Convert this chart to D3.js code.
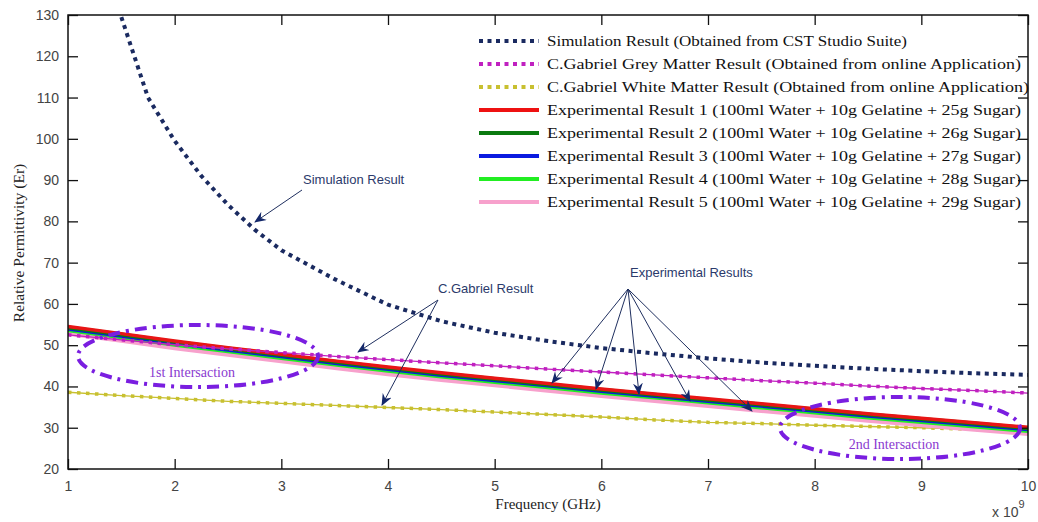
<!DOCTYPE html>
<html><head><meta charset="utf-8">
<script src="https://cdn.jsdelivr.net/npm/d3@7"></script>
<style>body{margin:0;background:#fff}svg{display:block}</style>
</head><body>
<svg id="c" width="1038" height="522"></svg>
<script>
// ---- data ----
const xTicks = [1,2,3,4,5,6,7,8,9,10];
const yTicks = [20,30,40,50,60,70,80,90,100,110,120,130];
const simFreq = [1.5,1.75,2,2.25,2.5,2.75,3,3.5,4,4.5,5,5.5,6,6.5,7,7.5,8,8.5,9,9.5,10];
const simValues = [129.5,110,99.5,91,84,78,73,66,59.8,55.8,53,51,49.3,48,46.8,45.8,45,44.3,43.7,43.2,42.8];
const freq = [1,1.5,2,2.5,3,3.5,4,4.5,5,5.5,6,6.5,7,7.5,8,8.5,9,9.5,10];
const greyMatter = [52.5,51.3,50.1,49.1,48.2,47.3,46.5,45.7,45,44.2,43.5,42.8,42.1,41.4,40.8,40.1,39.5,39,38.4];
const whiteMatter = [38.6,37.8,37.1,36.4,35.9,35.4,34.9,34.4,33.8,33.2,32.6,31.9,31.3,31,30.6,30.3,30,29.6,29.3];
const exp1 = [54.5,52.8,51.0,49.4,47.8,46.2,44.7,43.3,42.0,40.7,39.4,38.2,37.0,35.8,34.6,33.4,32.3,31.2,30.1];
const exp2 = [54.3,52.6,50.8,49.2,47.6,46.0,44.5,43.1,41.8,40.5,39.2,38.0,36.8,35.6,34.4,33.2,32.1,31.0,29.9];
const exp3 = [54.0,52.3,50.5,48.9,47.3,45.7,44.2,42.8,41.5,40.2,38.9,37.7,36.5,35.3,34.1,32.9,31.8,30.7,29.6];
const exp4 = [53.6,51.9,50.1,48.5,46.9,45.3,43.8,42.4,41.1,39.8,38.5,37.3,36.1,34.9,33.7,32.5,31.4,30.3,29.2];
const exp5 = [52.9,51.2,49.4,47.8,46.2,44.6,43.1,41.7,40.4,39.1,37.8,36.6,35.4,34.2,33.0,31.8,30.7,29.6,28.6];
const legendLabels = [
  "Simulation Result (Obtained from CST Studio Suite)",
  "C.Gabriel Grey Matter Result  (Obtained from online Application)",
  "C.Gabriel White Matter Result  (Obtained from online Application)",
  "Experimental Result 1 (100ml Water + 10g Gelatine + 25g Sugar)",
  "Experimental Result 2 (100ml Water + 10g Gelatine + 26g Sugar)",
  "Experimental Result 3 (100ml Water + 10g Gelatine + 27g Sugar)",
  "Experimental Result 4 (100ml Water + 10g Gelatine + 28g Sugar)",
  "Experimental Result 5 (100ml Water + 10g Gelatine + 29g Sugar)"
];

// ---- layout ----
const L=68,R=1028,T=15,B=469;
const svg=d3.select("#c");
const x=d3.scaleLinear().domain([1,10]).range([L,R]);
const y=d3.scaleLinear().domain([20,130]).range([B,T]);

const defs=svg.append("defs");
defs.append("clipPath").attr("id","clip")
  .append("rect").attr("x",L).attr("y",T).attr("width",R-L).attr("height",B-T);
const mk=defs.append("marker").attr("id","arr")
  .attr("viewBox","0 0 12 10").attr("refX",11).attr("refY",5)
  .attr("markerWidth",12).attr("markerHeight",10).attr("markerUnits","userSpaceOnUse")
  .attr("orient","auto");
mk.append("path").attr("d","M0,0 L12,5 L0,10 L4,5 Z").attr("fill","#14286a");

const line=(xs,ys)=>d3.line().x((d,i)=>x(xs[i])).y(d=>y(d))(ys);

const plot=svg.append("g").attr("clip-path","url(#clip)");
const expSeries=[[exp5,"#f7a1cc",5],[exp4,"#22ee22",4],[exp3,"#0a1ae0",4],[exp2,"#0a7a10",4],[exp1,"#e81515",3.5]];
plot.append("path").attr("d",line(freq,whiteMatter)).attr("fill","none").attr("stroke","#c8c030").attr("stroke-width",1.3);
plot.append("path").attr("d",line(freq,whiteMatter)).attr("fill","none").attr("stroke","#c8c030").attr("stroke-width",3.5).attr("stroke-dasharray","3.5,5.5");
expSeries.forEach(([v,c,w])=>{
  plot.append("path").attr("d",line(freq,v)).attr("fill","none").attr("stroke",c).attr("stroke-width",w);
});
plot.append("path").attr("d",line(freq,greyMatter)).attr("fill","none").attr("stroke","#c020c0").attr("stroke-width",1.3);
plot.append("path").attr("d",line(freq,greyMatter)).attr("fill","none").attr("stroke","#c020c0").attr("stroke-width",3.5).attr("stroke-dasharray","3.5,5.5");
plot.append("path").attr("d",line(simFreq,simValues)).attr("fill","none").attr("stroke","#1a2a60").attr("stroke-width",4).attr("stroke-dasharray","4,4.5");

// axes
const ax=svg.append("g");
const axBottom=d3.axisBottom(x).tickValues(xTicks).tickSizeInner(-10).tickSizeOuter(0).tickPadding(12);
const axLeft=d3.axisLeft(y).tickValues(yTicks).tickSizeInner(-10).tickSizeOuter(0).tickPadding(9);
const axTop=d3.axisTop(x).tickValues(xTicks).tickSizeInner(-10).tickSizeOuter(0).tickFormat("");
const axRight=d3.axisRight(y).tickValues(yTicks).tickSizeInner(-10).tickSizeOuter(0).tickFormat("");
[[axBottom,`translate(0,${B})`],[axLeft,`translate(${L},0)`],[axTop,`translate(0,${T})`],[axRight,`translate(${R},0)`]].forEach(([a,t])=>{
  const g=ax.append("g").attr("transform",t).call(a);
  g.select(".domain").remove();
  g.selectAll("line").attr("stroke","#111").attr("stroke-width",1.3);
  g.selectAll("text").attr("font-size",14).attr("fill","#444").attr("font-family","'Liberation Sans',Arial,sans-serif");
});
svg.append("rect").attr("x",L).attr("y",T).attr("width",R-L).attr("height",B-T)
  .attr("fill","none").attr("stroke","#111").attr("stroke-width",1.5);

// axis labels
svg.append("text").attr("x",548).attr("y",509).attr("text-anchor","middle")
  .attr("font-family","'Liberation Serif','Times New Roman',serif").attr("font-size",15).attr("fill","#222").text("Frequency (GHz)");
svg.append("text").attr("transform","translate(24,243) rotate(-90)").attr("text-anchor","middle")
  .attr("font-family","'Liberation Serif','Times New Roman',serif").attr("font-size",15.5).attr("fill","#222").text("Relative Permittivity (Er)");
const sx=svg.append("text").attr("x",992).attr("y",517).attr("font-family","'Liberation Sans',Arial,sans-serif").attr("font-size",14).attr("fill","#444");
sx.append("tspan").text("x 10");
sx.append("tspan").attr("dy",-9).attr("font-size",11).text("9");

// legend
const legStyles=[
  {c:"#1a2a60",w:4,d:"4,4.5"},{c:"#c020c0",w:4,d:"4,4.5"},{c:"#c8c030",w:4,d:"4,4.5"},
  {c:"#ee1111",w:4},{c:"#0a7a10",w:4},{c:"#0a1ae0",w:4},{c:"#22ee22",w:4},{c:"#f7a1cc",w:4}
];
const legW=[360,474,482,474,474,474,474,474];
const lg=svg.append("g");
legendLabels.forEach((t,i)=>{
  const yy=41+23*i;
  const s=legStyles[i];
  const ln=lg.append("line").attr("x1",479).attr("x2",539).attr("y1",yy).attr("y2",yy)
    .attr("stroke",s.c).attr("stroke-width",s.w);
  if(s.d) ln.attr("stroke-dasharray",s.d);
  lg.append("text").attr("x",547).attr("y",yy+5).attr("font-family","'Liberation Serif','Times New Roman',serif")
    .attr("font-size",14.5).attr("fill","#111").attr("textLength",legW[i]).attr("lengthAdjust","spacingAndGlyphs").text(t);
});

// annotations
const an=svg.append("g").attr("font-family","'Liberation Sans',Arial,sans-serif").attr("font-size",13).attr("fill","#2b3a6b");
an.append("text").attr("x",303).attr("y",184).text("Simulation Result");
an.append("text").attr("x",438).attr("y",293).text("C.Gabriel Result");
an.append("text").attr("x",630).attr("y",277).text("Experimental Results");
const arrows=[
  [[302,190],[255,222]],
  [[438,300],[358,352]],[[438,300],[382,405]],
  [[628,289],[552,383]],[[628,289],[596,389]],[[628,289],[639,394]],[[628,289],[690,401]],[[628,289],[752,411]]
];
arrows.forEach(([a,b])=>{
  svg.append("line").attr("x1",a[0]).attr("y1",a[1]).attr("x2",b[0]).attr("y2",b[1])
    .attr("stroke","#1f2f5f").attr("stroke-width",1).attr("marker-end","url(#arr)");
});
// ellipses
[[198,356,"1st Intersaction"],[900,428,"2nd Intersaction"]].forEach(([cx,cy,t])=>{
  svg.append("ellipse").attr("cx",cx).attr("cy",cy).attr("rx",120).attr("ry",31)
    .attr("fill","none").attr("stroke","#7a1ee0").attr("stroke-width",4).attr("stroke-dasharray","12,6,3,6");
  svg.append("text").attr("x",cx-6).attr("y",cy+21).attr("text-anchor","middle")
    .attr("font-family","'Liberation Serif','Times New Roman',serif").attr("font-size",14).attr("fill","#8a3ad0").text(t);
});
</script>
</body></html>
